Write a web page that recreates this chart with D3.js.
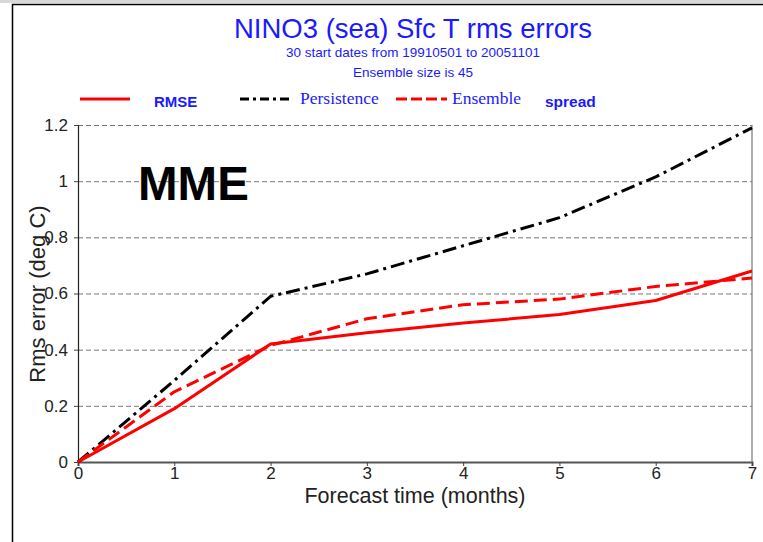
<!DOCTYPE html>
<html>
<head>
<meta charset="utf-8">
<script src="https://cdn.jsdelivr.net/npm/d3@7"></script>
<style>
  html, body { margin: 0; padding: 0; background: #fff; }
  svg { display: block; }
</style>
</head>
<body>
<svg id="chart"></svg>
<script>
// forecast lead time (months)
const months = [0, 1, 2, 3, 4, 5, 6, 7];
const rmse = [0, 0.19, 0.42, 0.46, 0.495, 0.525, 0.575, 0.68];
const persistence = [0, 0.29, 0.59, 0.67, 0.77, 0.87, 1.015, 1.19];
const spread = [0, 0.25, 0.415, 0.51, 0.56, 0.58, 0.625, 0.655];
const yTicks = [0, 0.2, 0.4, 0.6, 0.8, 1, 1.2];
const xTicks = [0, 1, 2, 3, 4, 5, 6, 7];

const width = 763, height = 542;
const svg = d3.select("#chart").attr("width", width).attr("height", height);

const margin = { top: 125, right: 11, bottom: 80, left: 78 };
const x = d3.scaleLinear().domain([0, 7]).range([margin.left, width - margin.right]);
const y = d3.scaleLinear().domain([0, 1.2]).range([height - margin.bottom, margin.top]);

const sans = "Liberation Sans, Arial, sans-serif";
const serif = "Liberation Serif, Times New Roman, serif";

// page frame
svg.append("rect").attr("x", 0).attr("y", 0).attr("width", width).attr("height", 3).attr("fill", "#d8d8d8");
svg.append("path")
    .attr("d", `M12.5,${height} V4.5 H${width}`)
    .attr("fill", "none").attr("stroke", "#000").attr("stroke-width", 1.5);

// titles
const blue = "#1a1aff";
svg.append("text").attr("x", 413).attr("y", 38)
    .attr("text-anchor", "middle").attr("font-family", sans)
    .attr("font-size", 27.5).attr("fill", blue).text("NINO3 (sea) Sfc T rms errors");
svg.append("text").attr("x", 413).attr("y", 58)
    .attr("text-anchor", "middle").attr("font-family", sans)
    .attr("font-size", 13.5).attr("fill", blue).attr("transform", "translate(0,5) scale(1,0.9)")
    .text("30 start dates from 19910501  to 20051101");
svg.append("text").attr("x", 413).attr("y", 78)
    .attr("text-anchor", "middle").attr("font-family", sans)
    .attr("font-size", 13.5).attr("fill", blue).attr("transform", "translate(0,7) scale(1,0.9)")
    .text("Ensemble size is 45");

// grid lines
const g = svg.append("g");
g.selectAll(".grid").data(yTicks).enter().append("line")
    .attr("x1", x(0)).attr("x2", x(7))
    .attr("y1", d => y(d) + 0.5).attr("y2", d => y(d) + 0.5)
    .attr("stroke", "#777").attr("stroke-width", 1).attr("stroke-dasharray", "5,3");

// axes
const yAxis = g.append("g").attr("transform", `translate(${x(0)},0)`)
    .call(d3.axisLeft(y).tickValues(yTicks).tickSize(4).tickPadding(6).tickFormat(d3.format("~g")));
const xAxis = g.append("g").attr("transform", `translate(0,${y(0)})`)
    .call(d3.axisBottom(x).tickValues(xTicks).tickSize(4).tickPadding(1).tickFormat(d3.format("d")));
[yAxis, xAxis].forEach(a => {
    a.selectAll("text").attr("font-family", sans)
        .attr("font-size", 17).attr("fill", "#222");
    a.selectAll("line").attr("stroke", "#444");
});
yAxis.select(".domain").attr("stroke", "#222").attr("stroke-width", 1.2);
xAxis.select(".domain").attr("stroke", "#555").attr("stroke-width", 2);
g.append("line").attr("x1", x(7)).attr("x2", x(7)).attr("y1", y(1.2)).attr("y2", y(0))
    .attr("stroke", "#777").attr("stroke-width", 1.2);

// axis titles
svg.append("text").attr("x", 415).attr("y", 503)
    .attr("text-anchor", "middle").attr("font-family", sans)
    .attr("font-size", 21.5).attr("fill", "#222").text("Forecast time (months)");
svg.append("text").attr("transform", "translate(45,294) rotate(-90)")
    .attr("text-anchor", "middle").attr("font-family", sans)
    .attr("font-size", 22).attr("fill", "#222").text("Rms error (deg C)");

svg.append("text").attr("x", 138).attr("y", 200)
    .attr("font-family", sans).attr("font-weight", "bold")
    .attr("font-size", 47.5).attr("fill", "#000").text("MME");

// series
const series = [
    { name: "RMSE", values: rmse, color: "red", dash: null, width: 3 },
    { name: "Persistence", values: persistence, color: "#000", dash: "14,5,3,5", width: 3 },
    { name: "Ensemble spread", values: spread, color: "red", dash: "13,6", width: 3 }
];
const line = d3.line().x((d, i) => x(months[i])).y(d => y(d));
series.forEach(s => {
    g.append("path").datum(s.values)
        .attr("d", line)
        .attr("fill", "none")
        .attr("stroke", s.color)
        .attr("stroke-width", s.width)
        .attr("stroke-dasharray", s.dash)
        .attr("stroke-linejoin", "round");
});

// legend
const leg = svg.append("g");
const legItems = [
    { x1: 80, x2: 130, s: series[0] },
    { x1: 240, x2: 290, s: series[1] },
    { x1: 396, x2: 447, s: series[2] }
];
legItems.forEach(l => {
    leg.append("line").attr("x1", l.x1).attr("x2", l.x2).attr("y1", 99).attr("y2", 99)
        .attr("stroke", l.s.color).attr("stroke-width", 3)
        .attr("stroke-dasharray", l.s.dash ? (l.s.name === "Persistence" ? "9,4,3,4" : "11,4") : null);
});
leg.append("text").attr("x", 154).attr("y", 107)
    .attr("font-family", sans).attr("font-weight", "bold")
    .attr("font-size", 15).attr("fill", blue).text("RMSE");
leg.append("text").attr("x", 300).attr("y", 104)
    .attr("font-family", serif)
    .attr("font-size", 17.5).attr("fill", blue).text("Persistence");
leg.append("text").attr("x", 452).attr("y", 104)
    .attr("font-family", serif)
    .attr("font-size", 17.5).attr("fill", blue).text("Ensemble");
leg.append("text").attr("x", 545).attr("y", 107)
    .attr("font-family", sans).attr("font-weight", "bold")
    .attr("font-size", 15.5).attr("fill", blue).text("spread");
</script>
</body>
</html>
